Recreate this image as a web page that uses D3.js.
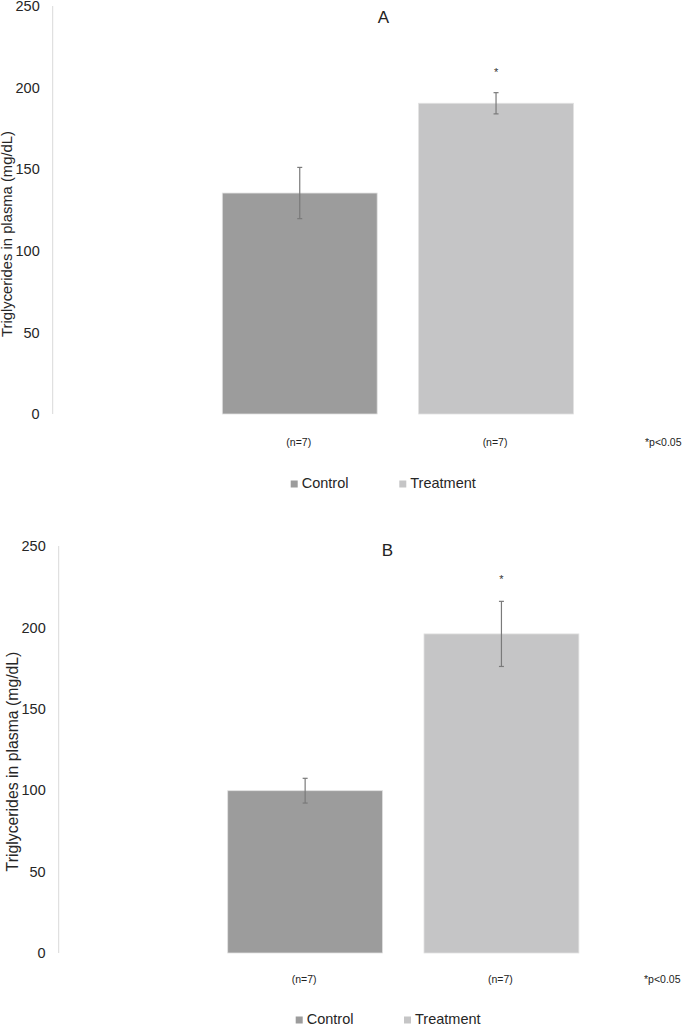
<!DOCTYPE html>
<html>
<head>
<meta charset="utf-8">
<script src="https://cdn.jsdelivr.net/npm/d3@7"></script>
<style>
  html, body { margin: 0; padding: 0; background: #fff; }
  svg { display: block; }
  text { font-family: "Liberation Sans", Arial, sans-serif; }
</style>
</head>
<body>
<script>
// ---- Data ----
const categories = ["Control", "Treatment"];
const nLabels = ["(n=7)", "(n=7)"];
const significant = [false, true];
const yTicks = [0, 50, 100, 150, 200, 250];
const panelTitles = ["A", "B"];
const valuesA = [135.4, 190.4];
const errorsA = [15.7, 6.5];
const valuesB = [99.7, 196.0];
const errorsB = [7.6, 20.0];
const noteText = "*p<0.05";
const yTitle = "Triglycerides in plasma (mg/dL)";

const colors = { Control: "#9c9c9c", Treatment: "#c5c5c6" };

const W = 685, H = 1027;
const svg = d3.select("body").append("svg").attr("width", W).attr("height", H);

function drawPanel(opt) {
  const g = svg.append("g");
  const y = d3.scaleLinear().domain([0, 250]).range([opt.y0, opt.y1]);
  const step = 196.3, pad = 0.211;
  const x = d3.scaleBand().domain(categories)
    .range([opt.barStart - step * pad, opt.barStart - step * pad + step * (2 - pad + 2 * pad)])
    .paddingInner(pad).paddingOuter(pad);

  // axis line
  g.append("line")
    .attr("x1", opt.axisX).attr("x2", opt.axisX)
    .attr("y1", y(250)).attr("y2", y(0))
    .attr("stroke", "#d9d9d9").attr("stroke-width", 1);

  // y axis labels
  const ax = g.append("g").attr("transform", `translate(${opt.axisX},0)`)
    .call(d3.axisLeft(y).tickValues(yTicks).tickSize(0).tickPadding(13).tickFormat(d3.format("d")));
  ax.select(".domain").remove();
  ax.selectAll("text").attr("font-size", 14.5).attr("fill", "#262626")
    .attr("font-family", "'Liberation Sans', Arial, sans-serif");

  // y title
  g.append("text")
    .attr("transform", `translate(${opt.titleX},${(y(0) + y(250)) / 2 + opt.titleDy}) rotate(-90)`)
    .attr("text-anchor", "middle").attr("font-size", opt.titleSize).attr("fill", "#262626")
    .text(yTitle);

  // panel title
  g.append("text").attr("x", opt.titleCx).attr("y", opt.titleBase)
    .attr("text-anchor", "middle").attr("font-size", 17).attr("fill", "#222")
    .text(opt.title);

  const data = categories.map((c, i) => ({ c, v: opt.values[i], e: opt.errors[i], n: nLabels[i], sig: significant[i] }));

  // bars
  g.selectAll("rect.bar").data(data).enter().append("rect")
    .attr("class", "bar")
    .attr("x", d => x(d.c)).attr("width", x.bandwidth())
    .attr("y", d => y(d.v)).attr("height", d => y(0) - y(d.v))
    .attr("fill", d => colors[d.c])
    .attr("stroke", "#e2e2e2").attr("stroke-width", 0.8);

  // error bars
  const eb = g.selectAll("g.err").data(data).enter().append("g").attr("class", "err")
    .attr("stroke", "#7a7a7a").attr("stroke-width", 1.2);
  eb.append("line")
    .attr("x1", d => x(d.c) + x.bandwidth() / 2).attr("x2", d => x(d.c) + x.bandwidth() / 2)
    .attr("y1", d => y(d.v + d.e)).attr("y2", d => y(d.v - d.e));
  [1, -1].forEach(s => {
    eb.append("line")
      .attr("x1", d => x(d.c) + x.bandwidth() / 2 - 2.5).attr("x2", d => x(d.c) + x.bandwidth() / 2 + 2.5)
      .attr("y1", d => y(d.v + s * d.e)).attr("y2", d => y(d.v + s * d.e));
  });

  // significance star
  g.selectAll("text.star").data(data.filter(d => d.sig)).enter().append("text")
    .attr("class", "star")
    .attr("x", d => x(d.c) + x.bandwidth() / 2)
    .attr("y", d => y(d.v + d.e) - opt.starGap)
    .attr("text-anchor", "middle").attr("font-size", 11).attr("fill", "#333")
    .text("*");

  // n labels
  g.selectAll("text.n").data(data).enter().append("text")
    .attr("class", "n")
    .attr("x", d => x(d.c) + x.bandwidth() / 2 - 1)
    .attr("y", opt.nBase)
    .attr("text-anchor", "middle").attr("font-size", 10.5).attr("fill", "#222")
    .text(d => d.n);

  g.append("text").attr("x", opt.noteX).attr("y", opt.nBase)
    .attr("text-anchor", "start").attr("font-size", 10.5).attr("fill", "#222")
    .text(noteText);

  // legend
  const lg = g.selectAll("g.leg").data(categories).enter().append("g").attr("class", "leg")
    .attr("transform", (d, i) => `translate(${opt.legX[i]},${opt.legY})`);
  lg.append("rect").attr("x", 0).attr("y", -7.5).attr("width", 7).attr("height", 7)
    .attr("fill", d => colors[d]);
  lg.append("text").attr("x", 11).attr("y", 0).attr("font-size", 14.5).attr("fill", "#262626")
    .text(d => d);
}

drawPanel({
  title: panelTitles[0], values: valuesA, errors: errorsA,
  y0: 414, y1: 6, axisX: 52.7, barStart: 222.3,
  titleX: 11.5, titleDy: 24, titleSize: 14.8, titleCx: 383.5, titleBase: 23,
  starGap: 17, nBase: 446, noteX: 645, legX: [290.7, 399.3], legY: 488
});

drawPanel({
  title: panelTitles[1], values: valuesB, errors: errorsB,
  y0: 953, y1: 546, axisX: 58.7, barStart: 227.7,
  titleX: 17.5, titleDy: 12, titleSize: 15.8, titleCx: 387.5, titleBase: 556,
  starGap: 18, nBase: 983, noteX: 644, legX: [295.7, 404], legY: 1024
});
</script>
</body>
</html>
